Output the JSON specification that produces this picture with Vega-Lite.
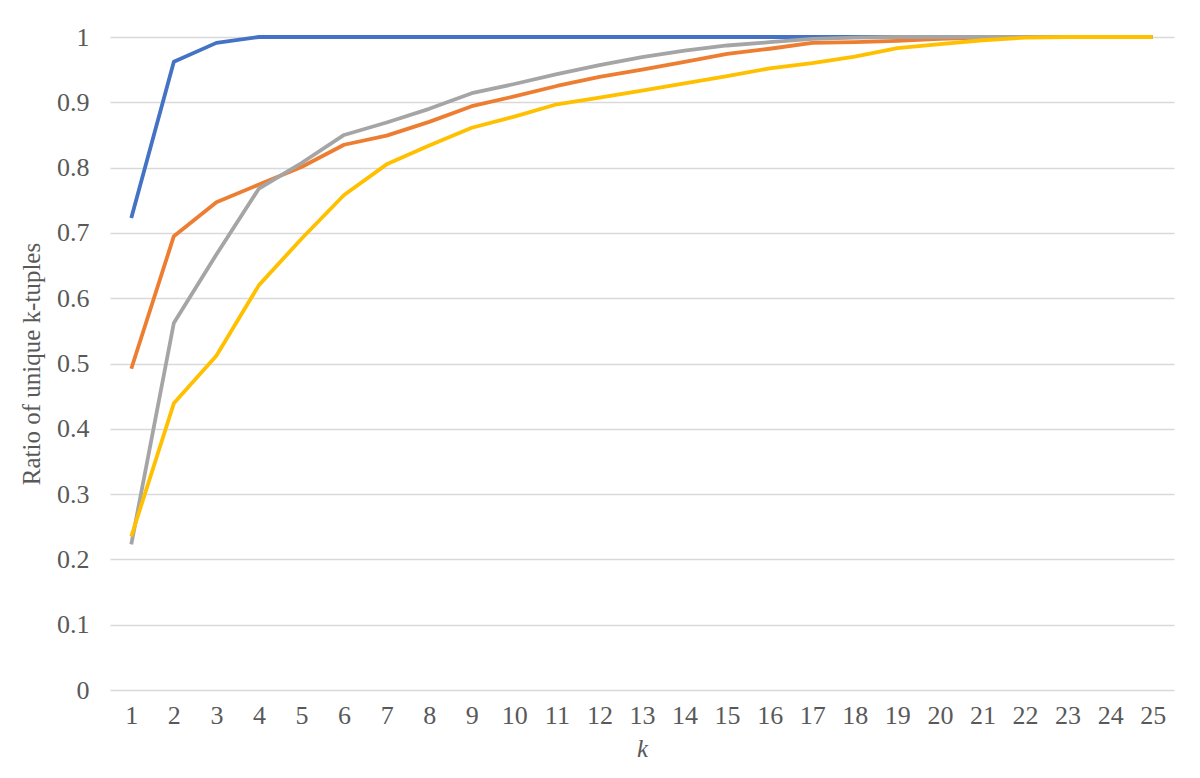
{
  "$schema": "https://vega.github.io/schema/vega-lite/v6.json",
  "width": 1064,
  "height": 653,
  "autosize": {"type": "none"},
  "padding": {"left": 110, "top": 37, "right": 26, "bottom": 88},
  "background": "white",
  "config": {
    "view": {"stroke": null},
    "font": "Liberation Serif",
    "axis": {"labelFont": "Liberation Serif", "titleFont": "Liberation Serif"}
  },
  "data": {
    "values": [
      {"k": 1, "series": "A", "ratio": 0.723}, {"k": 2, "series": "A", "ratio": 0.962}, {"k": 3, "series": "A", "ratio": 0.991}, {"k": 4, "series": "A", "ratio": 1.0}, {"k": 5, "series": "A", "ratio": 1.0},
      {"k": 6, "series": "A", "ratio": 1.0}, {"k": 7, "series": "A", "ratio": 1.0}, {"k": 8, "series": "A", "ratio": 1.0}, {"k": 9, "series": "A", "ratio": 1.0}, {"k": 10, "series": "A", "ratio": 1.0},
      {"k": 11, "series": "A", "ratio": 1.0}, {"k": 12, "series": "A", "ratio": 1.0}, {"k": 13, "series": "A", "ratio": 1.0}, {"k": 14, "series": "A", "ratio": 1.0}, {"k": 15, "series": "A", "ratio": 1.0},
      {"k": 16, "series": "A", "ratio": 1.0}, {"k": 17, "series": "A", "ratio": 1.0}, {"k": 18, "series": "A", "ratio": 1.0}, {"k": 19, "series": "A", "ratio": 1.0}, {"k": 20, "series": "A", "ratio": 1.0},
      {"k": 21, "series": "A", "ratio": 1.0}, {"k": 22, "series": "A", "ratio": 1.0}, {"k": 23, "series": "A", "ratio": 1.0}, {"k": 24, "series": "A", "ratio": 1.0}, {"k": 25, "series": "A", "ratio": 1.0},

      {"k": 1, "series": "B", "ratio": 0.492}, {"k": 2, "series": "B", "ratio": 0.695}, {"k": 3, "series": "B", "ratio": 0.747}, {"k": 4, "series": "B", "ratio": 0.774}, {"k": 5, "series": "B", "ratio": 0.801},
      {"k": 6, "series": "B", "ratio": 0.835}, {"k": 7, "series": "B", "ratio": 0.849}, {"k": 8, "series": "B", "ratio": 0.870}, {"k": 9, "series": "B", "ratio": 0.894}, {"k": 10, "series": "B", "ratio": 0.909},
      {"k": 11, "series": "B", "ratio": 0.925}, {"k": 12, "series": "B", "ratio": 0.939}, {"k": 13, "series": "B", "ratio": 0.950}, {"k": 14, "series": "B", "ratio": 0.962}, {"k": 15, "series": "B", "ratio": 0.974},
      {"k": 16, "series": "B", "ratio": 0.982}, {"k": 17, "series": "B", "ratio": 0.991}, {"k": 18, "series": "B", "ratio": 0.992}, {"k": 19, "series": "B", "ratio": 0.994}, {"k": 20, "series": "B", "ratio": 0.997},
      {"k": 21, "series": "B", "ratio": 0.999}, {"k": 22, "series": "B", "ratio": 1.0}, {"k": 23, "series": "B", "ratio": 1.0}, {"k": 24, "series": "B", "ratio": 1.0}, {"k": 25, "series": "B", "ratio": 1.0},

      {"k": 1, "series": "C", "ratio": 0.223}, {"k": 2, "series": "C", "ratio": 0.562}, {"k": 3, "series": "C", "ratio": 0.667}, {"k": 4, "series": "C", "ratio": 0.768}, {"k": 5, "series": "C", "ratio": 0.807},
      {"k": 6, "series": "C", "ratio": 0.850}, {"k": 7, "series": "C", "ratio": 0.869}, {"k": 8, "series": "C", "ratio": 0.890}, {"k": 9, "series": "C", "ratio": 0.914}, {"k": 10, "series": "C", "ratio": 0.928},
      {"k": 11, "series": "C", "ratio": 0.943}, {"k": 12, "series": "C", "ratio": 0.957}, {"k": 13, "series": "C", "ratio": 0.969}, {"k": 14, "series": "C", "ratio": 0.979}, {"k": 15, "series": "C", "ratio": 0.987},
      {"k": 16, "series": "C", "ratio": 0.992}, {"k": 17, "series": "C", "ratio": 0.997}, {"k": 18, "series": "C", "ratio": 0.999}, {"k": 19, "series": "C", "ratio": 1.0}, {"k": 20, "series": "C", "ratio": 1.0},
      {"k": 21, "series": "C", "ratio": 1.0}, {"k": 22, "series": "C", "ratio": 1.0}, {"k": 23, "series": "C", "ratio": 1.0}, {"k": 24, "series": "C", "ratio": 1.0}, {"k": 25, "series": "C", "ratio": 1.0},

      {"k": 1, "series": "D", "ratio": 0.235}, {"k": 2, "series": "D", "ratio": 0.439}, {"k": 3, "series": "D", "ratio": 0.512}, {"k": 4, "series": "D", "ratio": 0.620}, {"k": 5, "series": "D", "ratio": 0.691},
      {"k": 6, "series": "D", "ratio": 0.758}, {"k": 7, "series": "D", "ratio": 0.805}, {"k": 8, "series": "D", "ratio": 0.834}, {"k": 9, "series": "D", "ratio": 0.861}, {"k": 10, "series": "D", "ratio": 0.878},
      {"k": 11, "series": "D", "ratio": 0.897}, {"k": 12, "series": "D", "ratio": 0.907}, {"k": 13, "series": "D", "ratio": 0.918}, {"k": 14, "series": "D", "ratio": 0.929}, {"k": 15, "series": "D", "ratio": 0.940},
      {"k": 16, "series": "D", "ratio": 0.952}, {"k": 17, "series": "D", "ratio": 0.960}, {"k": 18, "series": "D", "ratio": 0.970}, {"k": 19, "series": "D", "ratio": 0.983}, {"k": 20, "series": "D", "ratio": 0.989},
      {"k": 21, "series": "D", "ratio": 0.995}, {"k": 22, "series": "D", "ratio": 0.999}, {"k": 23, "series": "D", "ratio": 1.0}, {"k": 24, "series": "D", "ratio": 1.0}, {"k": 25, "series": "D", "ratio": 1.0}
    ]
  },
  "mark": {"type": "line", "strokeWidth": 3.8, "strokeJoin": "round"},
  "encoding": {
    "x": {
      "field": "k",
      "type": "ordinal",
      "scale": {"type": "point", "padding": 0.5},
      "axis": {
        "title": "k",
        "titleFontStyle": "italic",
        "titleFontWeight": "normal",
        "titleFontSize": 25,
        "titleColor": "#595959",
        "titlePadding": 8,
        "labelAngle": 0,
        "labelFontSize": 26,
        "labelColor": "#595959",
        "labelPadding": 12,
        "ticks": false,
        "domain": false,
        "grid": false
      }
    },
    "y": {
      "field": "ratio",
      "type": "quantitative",
      "scale": {"domain": [0, 1], "nice": false, "zero": true},
      "axis": {
        "title": "Ratio of unique k-tuples",
        "titleFontWeight": "normal",
        "titleFontSize": 25,
        "titleColor": "#595959",
        "titlePadding": 12,
        "values": [0, 0.1, 0.2, 0.3, 0.4, 0.5, 0.6, 0.7, 0.8, 0.9, 1],
        "format": ".1~f",
        "labelFontSize": 26,
        "labelColor": "#595959",
        "labelPadding": 21,
        "ticks": false,
        "domain": false,
        "grid": true,
        "gridColor": "#d9d9d9",
        "gridWidth": 1.5
      }
    },
    "color": {
      "field": "series",
      "type": "nominal",
      "scale": {"domain": ["A", "B", "C", "D"], "range": ["#4472C4", "#ED7D31", "#A5A5A5", "#FFC000"]},
      "legend": null
    }
  }
}
